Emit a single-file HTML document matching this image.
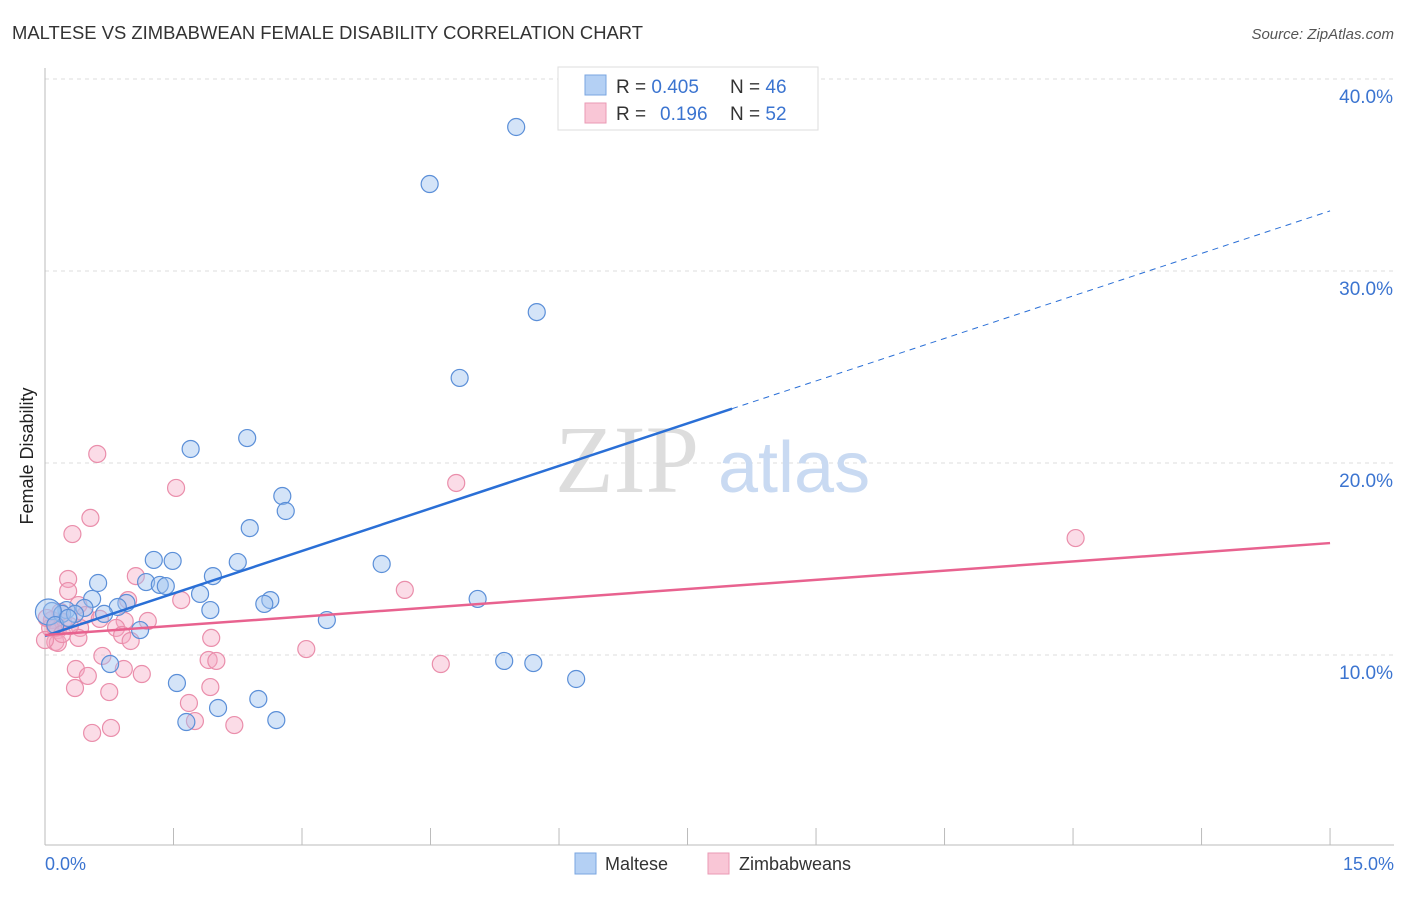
<!DOCTYPE html>
<html><head><meta charset="utf-8"><style>
body{margin:0;background:#fff;font-family:"Liberation Sans",sans-serif;}
svg text{font-family:"Liberation Sans",sans-serif;}
</style></head><body>
<svg id="chart" width="1406" height="892" viewBox="0 0 1406 892">
<text x="12" y="39" font-size="18" fill="#333" textLength="631" lengthAdjust="spacingAndGlyphs">MALTESE VS ZIMBABWEAN FEMALE DISABILITY CORRELATION CHART</text>
<text x="1394" y="39" font-size="15" fill="#555" font-style="italic" text-anchor="end">Source: ZipAtlas.com</text>
<g id="grid"></g>
<line x1="45" y1="68" x2="45" y2="845" stroke="#bbb"/>
<line x1="45" y1="845" x2="1394" y2="845" stroke="#bbb"/>
<g id="xticks"></g>
<text x="45" y="870" font-size="18" fill="#3b74d0">0.0%</text>
<text x="1394" y="870" font-size="18" fill="#3b74d0" text-anchor="end">15.0%</text>
<text transform="translate(33,456) rotate(-90)" font-size="18" fill="#222" text-anchor="middle">Female Disability</text>
<text x="555" y="492" font-size="96" fill="#ddd" style="font-family:'Liberation Serif',serif">ZIP</text>
<text x="718" y="492" font-size="72" fill="#c9daf2">atlas</text>
<g id="points"></g>
<g id="lines"></g>
<g>
<rect x="558" y="67" width="260" height="63" fill="#fff" stroke="#ddd"/>
<rect x="585" y="75" width="21" height="20" fill="#b4d0f4" stroke="#7aa6e0"/>
<rect x="585" y="103" width="21" height="20" fill="#f9c6d6" stroke="#ea9ab4"/>
<text x="616" y="93" font-size="19" fill="#333">R = <tspan fill="#3b74d0">0.405</tspan><tspan x="730">N = </tspan><tspan fill="#3b74d0">46</tspan></text>
<text x="616" y="120" font-size="19" fill="#333">R = <tspan x="660" fill="#3b74d0">0.196</tspan><tspan x="730">N = </tspan><tspan fill="#3b74d0">52</tspan></text>
</g>
<g>
<rect x="575" y="853" width="21" height="21" fill="#b4d0f4" stroke="#7aa6e0"/>
<text x="605" y="870" font-size="18" fill="#333">Maltese</text>
<rect x="708" y="853" width="21" height="21" fill="#f9c6d6" stroke="#ea9ab4"/>
<text x="739" y="870" font-size="18" fill="#333">Zimbabweans</text>
</g>
</svg>
<script>
const yTicks=[10,20,30,40];
const yTickLabels=["10.0%","20.0%","30.0%","40.0%"];
const xTickVals=[0,1.5,3,4.5,6,7.5,9,10.5,12,13.5,15];
const malteseX=[5.50,4.49,5.74,4.84,1.70,2.36,2.77,2.81,2.39,1.27,1.49,2.25,3.93,0.62,1.18,1.34,1.41,1.96,0.55,1.81,2.63,2.56,5.05,0.95,0.85,1.93,0.46,0.25,0.08,0.20,0.69,1.11,3.29,0.76,1.54,5.36,5.70,6.20,2.49,2.02,1.65,2.70,0.04,0.35,0.12,0.27];
const malteseY=[37.50,34.53,27.86,24.43,20.73,21.30,18.28,17.50,16.61,14.95,14.90,14.84,14.74,13.75,13.80,13.65,13.59,14.11,12.92,13.18,12.86,12.66,12.92,12.71,12.50,12.34,12.45,12.34,12.29,12.14,12.14,11.30,11.82,9.53,8.54,9.69,9.58,8.75,7.71,7.24,6.51,6.61,12.24,12.14,11.56,11.93];
const zimX=[0.61,1.53,4.80,0.53,0.32,12.03,0.27,1.06,0.27,4.20,1.59,0.97,0.39,0.47,1.20,0.93,0.83,0.64,0.18,0.08,0.15,0.21,0.06,0.90,0.41,1.94,1.00,0.12,0.15,0.39,0.67,1.91,2.00,3.05,4.62,0.36,0.92,0.50,1.13,0.35,0.75,1.93,1.68,1.75,2.21,0.77,0.55,0.12,0.20,0.29,0.0,0.02];
const zimY=[20.47,18.70,18.96,17.14,16.30,16.09,13.96,14.11,13.33,13.39,12.86,12.86,12.60,12.08,11.77,11.77,11.41,11.88,12.24,11.82,11.30,11.72,11.41,11.04,11.41,10.89,10.73,10.68,10.63,10.89,9.95,9.74,9.69,10.31,9.53,9.27,9.27,8.91,9.01,8.28,8.07,8.33,7.50,6.56,6.35,6.20,5.94,11.41,11.09,11.51,10.78,11.93];
const malteseTrend=[0,10.99,8.02,15,33.13];
const zimTrend=[0,11.04,15,15.83];
const NS="http://www.w3.org/2000/svg";
const sx=v=>45+v*85.67, sy=v=>655-(v-10)*19.2;
function mk(t,a,p){const e=document.createElementNS(NS,t);for(const k in a)e.setAttribute(k,a[k]);p.appendChild(e);return e;}
const grid=document.getElementById('grid');
yTicks.forEach((t,i)=>{
 const l=mk('line',{x1:45,x2:1394,y1:sy(t),y2:sy(t),stroke:'#ddd','stroke-dasharray':'4,4'},grid);
 
 
 const tx=mk('text',{x:1393,y:sy(t)+24,'font-size':19,fill:'#3b74d0','text-anchor':'end'},grid);
 tx.textContent=yTickLabels[i];
 
 
});
const xt=document.getElementById('xticks');
xTickVals.forEach(v=>{
 const l=mk('line',{x1:sx(v),x2:sx(v),y1:828,y2:845,stroke:'#bbb'},xt);
 
 
});
const pts=document.getElementById('points');
zimX.forEach((x,i)=>{
 const c=mk('circle',{cx:sx(x),cy:sy(zimY[i]),r:8.5,fill:'rgba(246,168,194,0.4)',stroke:'#ea8eab','stroke-width':1.2},pts);
 
 
});
malteseX.forEach((x,i)=>{
 const c=mk('circle',{cx:sx(x),cy:sy(malteseY[i]),r:i==42?13:8.5,fill:'rgba(160,196,240,0.45)',stroke:'#5b8fd8','stroke-width':1.2},pts);
 
 
});
const ln=document.getElementById('lines');
const slope=(malteseTrend[4]-malteseTrend[1])/(malteseTrend[3]-malteseTrend[0]);
const yEnd=malteseTrend[1]+slope*malteseTrend[2];
let a=mk('line',{x1:sx(0),y1:sy(malteseTrend[1]),x2:sx(malteseTrend[2]),y2:sy(yEnd),stroke:'#2a6fd6','stroke-width':2.5},ln);


a=mk('line',{x1:sx(malteseTrend[2]),y1:sy(yEnd),x2:sx(malteseTrend[3]),y2:sy(malteseTrend[4]),stroke:'#2a6fd6','stroke-width':1,'stroke-dasharray':'6,5'},ln);


a=mk('line',{x1:sx(zimTrend[0]),y1:sy(zimTrend[1]),x2:sx(zimTrend[2]),y2:sy(zimTrend[3]),stroke:'#e8628f','stroke-width':2.5},ln);


</script>
</body></html>
